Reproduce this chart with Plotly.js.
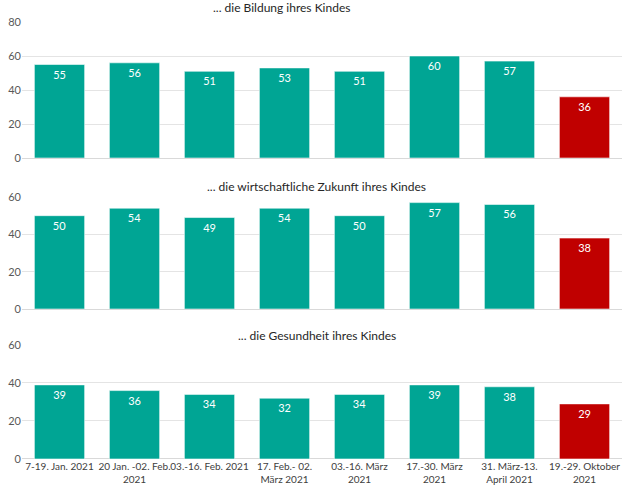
<!DOCTYPE html>
<html>
<head>
<meta charset="utf-8">
<script src="https://cdn.plot.ly/plotly-3.0.1.min.js"></script>
<style>
  body { margin: 0; background: #fff; }
  #chart { width: 636px; height: 504px; }
</style>
</head>
<body>
<div id="chart"></div>
<script>
// survey waves (x categories)
const waves = [
  '7-19. Jan. 2021',
  '20 Jan. -02. Feb.<br>2021',
  '03.-16. Feb. 2021',
  '17. Feb.- 02.<br>März 2021',
  '03.-16. März<br>2021',
  '17.-30. März<br>2021',
  '31. März-13.<br>April 2021',
  '19.-29. Oktober<br>2021'
];

const panelTitles = [
  '... die Bildung ihres Kindes',
  '... die wirtschaftliche Zukunft ihres Kindes',
  '... die Gesundheit ihres Kindes'
];

// percentages per panel
const bildung = [55, 56, 51, 53, 51, 60, 57, 36];
const zukunft = [50, 54, 49, 54, 50, 57, 56, 38];
const gesundheit = [39, 36, 34, 32, 34, 39, 38, 29];

const TEAL = '#00A594';
const RED = '#C00000';
const FONT = 'Lato, "Open Sans", sans-serif';

const series = [bildung, zukunft, gesundheit];
const axisIds = ['', '2', '3'];

const data = series.map((vals, i) => ({
  type: 'bar',
  x: waves,
  y: vals,
  xaxis: 'x' + axisIds[i],
  yaxis: 'y' + axisIds[i],
  marker: {
    color: vals.map((v, j) => (j === vals.length - 1 ? RED : TEAL)),
    line: {color: 'rgba(255,255,255,0.55)', width: 1}
  },
  text: vals.map(String),
  textposition: 'inside',
  insidetextanchor: 'end',
  textangle: 0,
  insidetextfont: {color: '#ffffff', size: 11, family: FONT},
  hoverinfo: 'x+y',
  showlegend: false
}));

function yAxis(domain, range) {
  return {
    domain: domain,
    range: range,
    dtick: 20,
    showgrid: true,
    gridcolor: '#e4e4e4',
    gridwidth: 1,
    zeroline: true,
    zerolinecolor: '#d9d9d9',
    zerolinewidth: 1,
    ticks: '',
    tickfont: {size: 11, color: '#595959', family: FONT},
    automargin: false,
    fixedrange: true
  };
}

function xAxis(anchor, showLabels) {
  return {
    anchor: anchor,
    type: 'category',
    showticklabels: showLabels,
    tickangle: 0,
    ticks: '',
    showgrid: false,
    showline: false,
    tickfont: {size: 10, color: '#404040', family: FONT},
    automargin: false,
    fixedrange: true
  };
}

const layout = {
  width: 636,
  height: 504,
  margin: {l: 22, r: 14, t: 0, b: 0},
  paper_bgcolor: '#ffffff',
  plot_bgcolor: '#ffffff',
  bargap: 0.33,
  font: {family: FONT},
  xaxis: xAxis('y', false),
  xaxis2: xAxis('y2', false),
  xaxis3: xAxis('y3', true),
  yaxis: yAxis([0.6865, 0.9563], [0, 80]),
  yaxis2: yAxis([0.3869, 0.6091], [0, 60]),
  yaxis3: yAxis([0.0893, 0.3155], [0, 60]),
  annotations: [
    {x: 281 / 636, y: 1 - 8 / 504, text: panelTitles[0]},
    {x: 316 / 636, y: 1 - 186 / 504, text: panelTitles[1]},
    {x: 317 / 636, y: 1 - 335 / 504, text: panelTitles[2]}
  ].map(a => Object.assign(a, {
    xref: 'paper', yref: 'paper', showarrow: false,
    xanchor: 'center', yanchor: 'middle',
    font: {size: 12, color: '#262626', family: FONT}
  }))
};

// paper coordinates above are measured against the full figure
layout.annotations.forEach(a => {
  a.x = (a.x * 636 - 22) / 600;
});

Plotly.newPlot('chart', data, layout, {displayModeBar: false, responsive: false});
</script>
</body>
</html>
